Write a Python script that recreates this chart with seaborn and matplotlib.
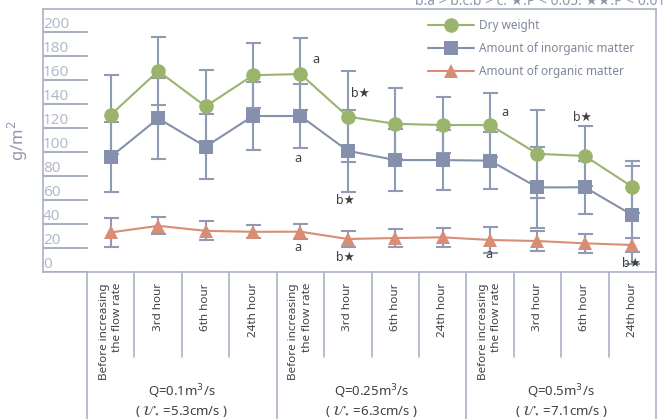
import pandas as pd
import seaborn as sns
import matplotlib.pyplot as plt
import matplotlib.transforms as mtransforms

# Data
categories = ['Before increasing\nthe flow rate', '3rd hour', '6th hour', '24th hour'] * 3
groups = ['Q=0.1m$^3$/s\n( $\\mathcal{U}_{\\star}$ =5.3cm/s )',
          'Q=0.25m$^3$/s\n( $\\mathcal{U}_{\\star}$ =6.3cm/s )',
          'Q=0.5m$^3$/s\n( $\\mathcal{U}_{\\star}$ =7.1cm/s )']
series = ['Dry weight', 'Amount of inorganic matter', 'Amount of organic matter']

dry = [131, 167.5, 138, 164, 165, 129.5, 123.5, 122.5, 122.5, 98.5, 96.7, 71]
dry_err = [33, 28, 30, 27, 30, 38, 29.5, 23, 27, 36.5, 25, 21.7]
inorg = [96, 128, 104.5, 130, 130, 101, 93.3, 93.3, 92.8, 70.5, 70.6, 47.5]
inorg_err = [29, 34, 27, 28, 27, 34, 26, 25, 24, 34, 22, 40.8]
org = [33, 38.5, 34.3, 33.5, 33.6, 27.5, 28.3, 28.9, 26.7, 25.8, 23.9, 22.5]
org_err = [12, 7, 8, 5.5, 6, 6.7, 7.5, 8, 11, 8.5, 7.8, 6]

yticks = [0, 20, 40, 60, 80, 100, 120, 140, 160, 180, 200]

# significance marks: (category index, value, text)
marks = [(4.32, 176.7, 'a'), (5.27, 149, 'b★'), (3.94, 95, 'a'), (4.95, 60, 'b★'),
         (3.94, 20.8, 'a'), (4.95, 12.5, 'b★'), (8.32, 133, 'a'), (9.95, 129, 'b★'),
         (7.97, 15, 'a'), (10.98, 7.5, 'b★')]

colors = {'Dry weight': '#9ab46c', 'Amount of inorganic matter': '#8490ac',
          'Amount of organic matter': '#d88d76'}
markers = {'Dry weight': 'o', 'Amount of inorganic matter': 's',
           'Amount of organic matter': '^'}
frame_c = '#a9b1c4'
err_c = '#8f9bb5'

sns.set_style('white')
plt.rcParams['font.family'] = ['Noto Sans', 'DejaVu Sans']

pos = list(range(len(categories)))
df = pd.DataFrame({
    'pos': pos * 3,
    'value': dry + inorg + org,
    'err': dry_err + inorg_err + org_err,
    'series': [s for s in series for _ in pos],
})

fig = plt.figure(figsize=(6.72, 4.19), dpi=100)
ax = fig.add_axes([43 / 672, 147 / 419, 613 / 672, 263 / 419])

# error bars behind the markers
for s in series:
    d = df[df['series'] == s]
    ax.errorbar(d['pos'], d['value'], yerr=d['err'], fmt='none', ecolor=err_c,
                elinewidth=1.5, capsize=5.4, capthick=1.5, zorder=1)

sns.lineplot(data=df, x='pos', y='value', hue='series', style='series',
             palette=colors, markers=markers, dashes=False, markersize=10.5,
             markeredgewidth=0, linewidth=1.5, ax=ax, zorder=3)

ax.set_xlim(-1.43, 11.5)
ax.set_ylim(0, 219.2)
ax.set_xticks([])
ax.set_yticks([])
ax.set_xlabel('')
ax.set_ylabel('g/m$^2$', color='#8e96ab', fontsize=12)
ax.yaxis.set_label_coords(-0.022, 0.5)
for sp in ax.spines.values():
    sp.set_color(frame_c)
    sp.set_linewidth(1.2)

# short y gridlines with labels sitting on them
for v in yticks:
    ax.plot([-1.43, -0.5], [v, v], color=frame_c, lw=1.5, zorder=1)
    ax.text(-1.43, v, str(v), ha='left', va='bottom', fontsize=11,
            color='#b3bacb')

# significance letters
for x, y, t in marks:
    ax.text(x, y, t, ha='center', va='center', fontsize=9, color='#404040',
            family=['Noto Sans', 'DejaVu Sans'])

# category axis below the plot
trans = mtransforms.blended_transform_factory(ax.transData, ax.transAxes)
for k in range(13):
    xb = k - 0.5
    bottom = -0.56 if k % 4 == 0 else -0.323
    ax.plot([xb, xb], [0, bottom], color=frame_c, lw=1.2, transform=trans,
            clip_on=False)
for i, c in enumerate(categories):
    ax.text(i, -0.042, c, rotation=90, ha='center', va='top', multialignment='right',
            fontsize=8.4, color='#404040', linespacing=1.3, transform=trans)
for g, lab in enumerate(groups):
    ax.text(g * 4 + 1.5, -0.49, lab, ha='center', va='center', fontsize=9.5,
            color='#404040', linespacing=1.25, transform=trans)

handles, labels = ax.get_legend_handles_labels()
for h in handles:
    h.set_markersize(10.5)
ax.legend(handles, labels, loc='upper left', bbox_to_anchor=(428 / 672, 1 - 19 / 419),
          bbox_transform=fig.transFigure, frameon=False, fontsize=8.5,
          handlelength=3.9, handletextpad=0.45, labelspacing=0.85,
          borderpad=0, borderaxespad=0, labelcolor='#7f879b')

# note above the frame, cut by the top edge as in the reference
fig.text(665 / 672, 1 - 5 / 419, 'b:a > b.c:b > c. ★:P < 0.05. ★★:P < 0.01',
         ha='right', va='baseline', fontsize=10, color='#8e96ab',
         family=['Noto Sans', 'DejaVu Sans'])

fig.savefig('out.png', dpi=100)
